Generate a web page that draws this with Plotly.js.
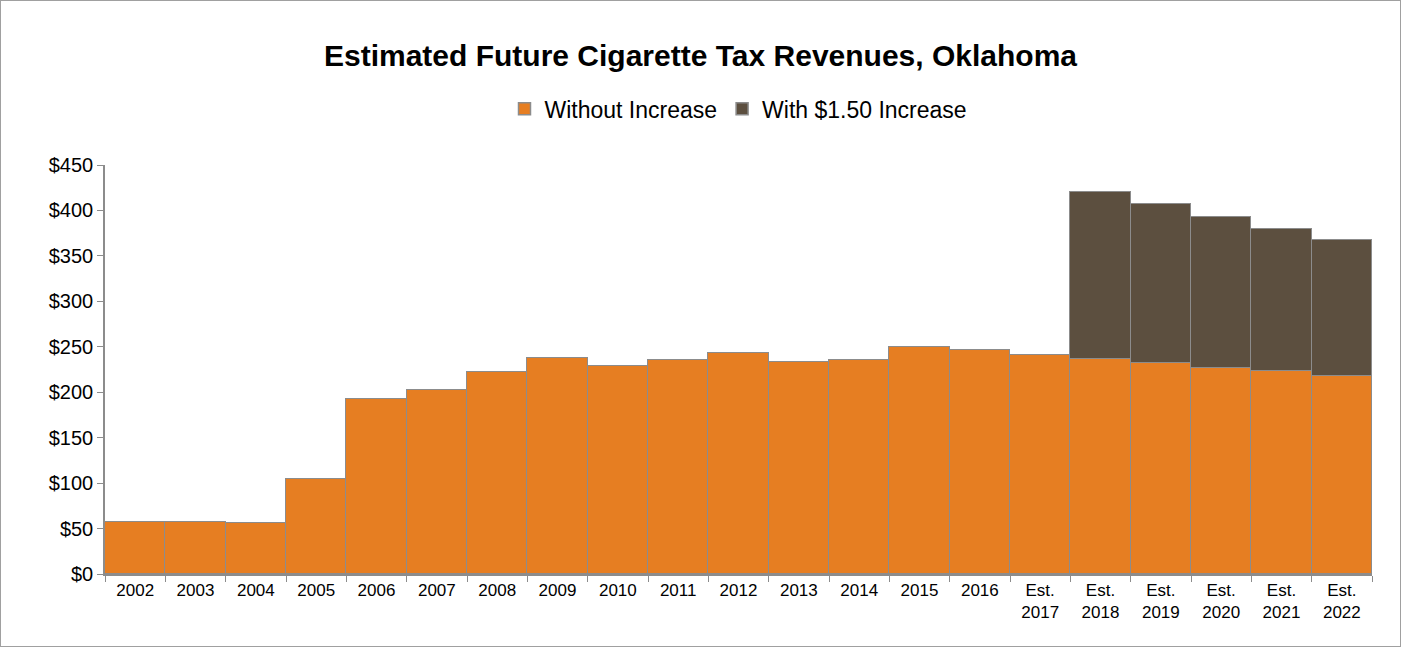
<!DOCTYPE html>
<html>
<head>
<meta charset="utf-8">
<script src="https://cdn.plot.ly/plotly-3.0.1.min.js"></script>
<style>
  html, body { margin: 0; padding: 0; background: #fff; }
  #chart { width: 1401px; height: 647px; box-sizing: border-box; border: 1px solid #a0a0a0; }
</style>
</head>
<body>
<div id="chart"></div>
<script>
// revenue in millions of dollars
const years = ['2002', '2003', '2004', '2005', '2006', '2007', '2008', '2009', '2010', '2011',
  '2012', '2013', '2014', '2015', '2016', 'Est.<br>2017', 'Est.<br>2018', 'Est.<br>2019',
  'Est.<br>2020', 'Est.<br>2021', 'Est.<br>2022'];
const withoutIncrease = [57, 57, 56, 105, 193, 202, 222, 238, 229, 236, 243, 233, 236, 250, 247,
  241, 237, 232, 227, 223, 218];
const withIncrease = [null, null, null, null, null, null, null, null, null, null, null, null,
  null, null, null, null, 183, 175, 166, 157, 150];
const tickVals = [0, 50, 100, 150, 200, 250, 300, 350, 400, 450];
const tickText = tickVals.map(v => '$' + v);

const outline = {color: '#8c8c8c', width: 1.5};

const data = [
  {
    x: years, y: withoutIncrease, type: 'bar', name: 'Without Increase',
    marker: {color: '#e67e22', line: outline}
  },
  {
    x: years, y: withIncrease, type: 'bar', name: 'With $1.50 Increase',
    marker: {color: '#5c4f3f', line: outline}
  }
];

const layout = {
  width: 1399, height: 645,
  barmode: 'stack', bargap: 0,
  margin: {l: 104, r: 28, t: 164, b: 72},
  paper_bgcolor: '#fff', plot_bgcolor: '#fff',
  font: {family: 'Liberation Sans, Arial, sans-serif', size: 17, color: '#000'},
  title: {text: '<b>Estimated Future Cigarette Tax Revenues, Oklahoma</b>',
    font: {size: 30}, x: 0.5, xanchor: 'center', y: 0.915, yanchor: 'middle'},
  showlegend: true,
  legend: {orientation: 'h', x: 0.5, xanchor: 'center', y: 1.085, yanchor: 'bottom',
    font: {size: 23}, traceorder: 'normal', itemwidth: 30},
  xaxis: {
    type: 'category',
    showline: true, linecolor: '#8c8c8c', linewidth: 1.5,
    ticks: 'outside', ticklen: 6, tickcolor: '#8c8c8c',
    tickson: 'boundaries', tickfont: {size: 17}, tickangle: 0, fixedrange: true
  },
  yaxis: {
    range: [0, 450], tickvals: tickVals, ticktext: tickText,
    showgrid: false, zeroline: false,
    showline: true, linecolor: '#8c8c8c', linewidth: 1.5,
    ticks: 'outside', ticklen: 6, tickcolor: '#8c8c8c',
    tickfont: {size: 20}
  }
};

Plotly.newPlot('chart', data, layout, {displayModeBar: false});
</script>
</body>
</html>
